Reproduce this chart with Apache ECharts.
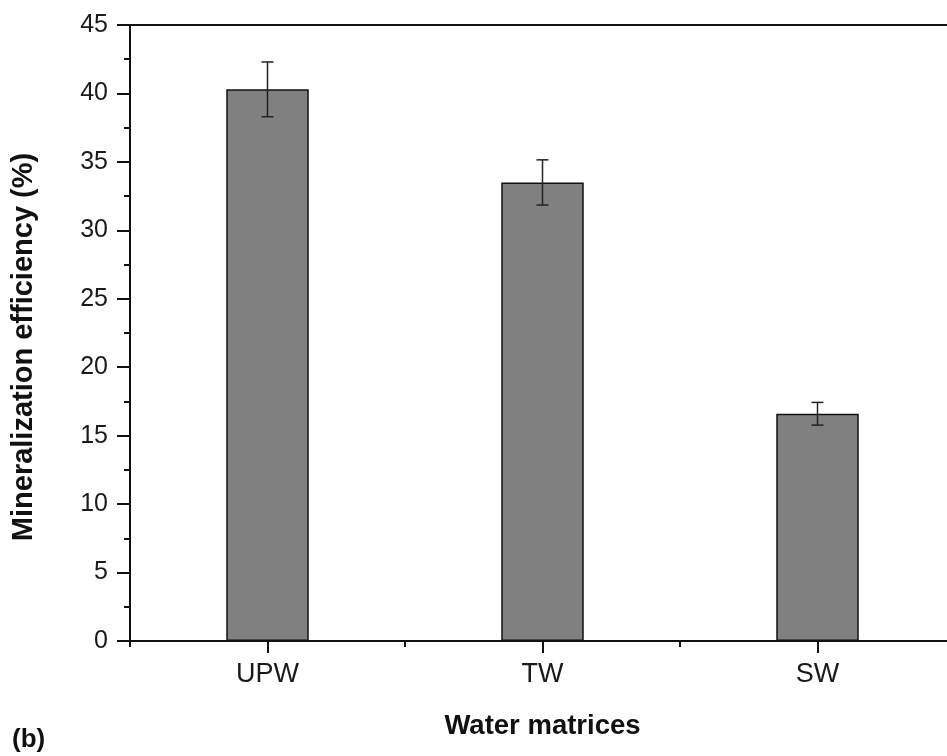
<!DOCTYPE html>
<html>
<head>
<meta charset="utf-8">
<script src="https://cdn.jsdelivr.net/npm/echarts@6/dist/echarts.min.js"></script>
<style>html,body{margin:0;padding:0;background:#fff;}#c{width:947px;height:756px;}</style>
</head>
<body>
<div id="c"></div>
<script>
var categories = ['UPW', 'TW', 'SW'];
var values = [40.3, 33.5, 16.6];
var errors = [2.0, 1.65, 0.83];
var yTicks = [0, 5, 10, 15, 20, 25, 30, 35, 40, 45];

var chart = echarts.init(document.getElementById('c'), null, {renderer: 'canvas'});
var font = 'Arial, "Liberation Sans", Helvetica, sans-serif';
var errData = categories.map(function (c, i) { return [i, values[i] - errors[i], values[i] + errors[i]]; });

chart.setOption({
  animation: false,
  backgroundColor: '#ffffff',
  grid: {left: 130, width: 825, top: 25, bottom: 115, outerBoundsMode: 'none', containLabel: false},
  xAxis: [
    {
      type: 'category', data: categories, position: 'bottom',
      name: 'Water matrices', nameLocation: 'middle', nameGap: 71,
      nameTextStyle: {fontFamily: font, fontSize: 27.5, fontWeight: 'bold', color: '#111'},
      axisLine: {show: true, lineStyle: {color: '#111', width: 2}},
      axisTick: {show: true, alignWithLabel: true, length: 12, lineStyle: {color: '#111', width: 2}},
      axisLabel: {fontFamily: font, fontSize: 27, color: '#1a1a1a', margin: 20},
      splitLine: {show: false}
    },
    {
      type: 'category', data: categories, position: 'bottom',
      axisLine: {show: false},
      axisTick: {show: true, alignWithLabel: false, length: 6, lineStyle: {color: '#111', width: 2}},
      axisLabel: {show: false},
      splitLine: {show: false}
    },
    {
      type: 'category', data: categories, position: 'top',
      axisLine: {show: true, lineStyle: {color: '#111', width: 2}},
      axisTick: {show: false}, axisLabel: {show: false}, splitLine: {show: false}
    }
  ],
  yAxis: {
    type: 'value', min: yTicks[0], max: yTicks[yTicks.length - 1], interval: 5,
    axisLine: {show: true, lineStyle: {color: '#111', width: 2}},
    axisTick: {show: true, length: 13, lineStyle: {color: '#111', width: 2}},
    minorTick: {show: true, splitNumber: 2, length: 6, lineStyle: {color: '#111', width: 2}},
    axisLabel: {fontFamily: font, fontSize: 25, color: '#1a1a1a', margin: 22},
    splitLine: {show: false}
  },
  series: [
    {
      type: 'bar', data: values, barWidth: '30%', xAxisIndex: 0,
      itemStyle: {color: '#808080', borderColor: '#111', borderWidth: 1.5}
    },
    {
      type: 'custom', xAxisIndex: 0, data: errData, z: 10,
      renderItem: function (params, api) {
        var x = api.value(0);
        var lo = api.coord([x, api.value(1)]);
        var hi = api.coord([x, api.value(2)]);
        var hw = 6;
        var st = {stroke: '#222', lineWidth: 1.5};
        return {type: 'group', children: [
          {type: 'line', shape: {x1: hi[0], y1: hi[1], x2: lo[0], y2: lo[1]}, style: st},
          {type: 'line', shape: {x1: hi[0] - hw, y1: hi[1], x2: hi[0] + hw, y2: hi[1]}, style: st},
          {type: 'line', shape: {x1: lo[0] - hw, y1: lo[1], x2: lo[0] + hw, y2: lo[1]}, style: st}
        ]};
      }
    }
  ],
  graphic: [
    {type: 'text', left: 12, top: 727, style: {text: '(b)', fontFamily: font, fontSize: 26, fontWeight: 'bold', fill: '#111'}},
    {type: 'text', x: 24, y: 347, rotation: Math.PI / 2,
     style: {text: 'Mineralization efficiency (%)', fontFamily: font, fontSize: 29, fontWeight: 'bold', fill: '#111', align: 'center', verticalAlign: 'middle'}}
  ]
});
</script>
</body>
</html>
